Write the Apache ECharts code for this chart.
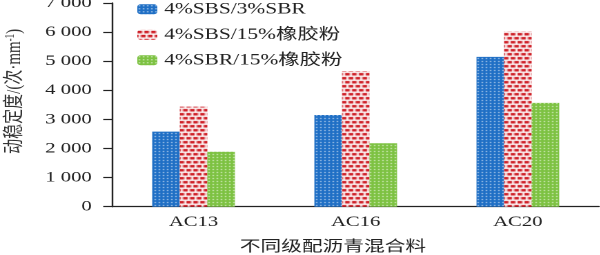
<!DOCTYPE html>
<html>
<head>
<meta charset="utf-8">
<script src="https://cdn.jsdelivr.net/npm/echarts@6/dist/echarts.min.js"></script>
<style>
html,body{margin:0;padding:0;background:#fff;overflow:hidden;width:600px;height:255px;}
#c{width:435px;height:255px;transform:scaleX(1.38);transform-origin:0 0;}
</style>
</head>
<body>
<div id="c"></div>
<script>
// ---- data ----
var categories = ['AC13', 'AC16', 'AC20'];
var seriesNames = ['4%SBS/3%SBR', '4%SBS/15%橡胶粉', '4%SBR/15%橡胶粉'];
var valsSBS_SBR = [2580, 3150, 5150];
var valsSBS_Rubber = [3440, 4660, 6020];
var valsSBR_Rubber = [1890, 2180, 3570];
var yMin = 0, yMax = 7000, yStep = 1000;
var xAxisName = '不同级配沥青混合料';

// ---- pattern tiles ----
function tile(w, h, bg, fg, rects) {
  var cv = document.createElement('canvas');
  cv.width = w; cv.height = h;
  var ctx = cv.getContext('2d');
  ctx.fillStyle = bg; ctx.fillRect(0, 0, w, h);
  ctx.fillStyle = fg;
  rects.forEach(function (r) { ctx.fillRect(r[0], r[1], r[2], r[3]); });
  return { image: cv, repeat: 'repeat' };
}
var blueFill = tile(3, 3, '#1f6fc5', '#d3e4f6', [[1, 1, 1, 1]]);
var redFill = tile(5, 8, '#ffffff', '#cc141c', [[0, 1, 3.5, 2.5], [2.5, 5, 2.5, 2.5], [0, 5, 1, 2.5]]);
var greenFill = tile(3, 3, '#7dc242', '#eaf6e0', [[1, 1, 1, 1]]);

var serif = '"Liberation Serif", "Times New Roman", "Noto Sans CJK SC", serif';
var chart = echarts.init(document.getElementById('c'), null, { devicePixelRatio: 2 });
function fmt(v) { return String(v).replace(/\B(?=(\d{3})+(?!\d))/g, ' '); }

chart.setOption({
  animation: false,
  backgroundColor: '#fff',
  grid: { left: 81.5, right: 1, top: 3, bottom: 48.3, containLabel: false, outerBoundsMode: 'none' },
  legend: {
    orient: 'vertical', left: 99.5, top: 1.5, padding: 0,
    itemWidth: 14.5, itemHeight: 10, itemGap: 10,
    textStyle: { fontFamily: serif, fontSize: 15.5, color: '#222' },
    data: seriesNames
  },
  xAxis: {
    type: 'category', data: categories,
    axisLine: { lineStyle: { color: '#222', width: 1.3 } },
    axisTick: { show: false },
    axisLabel: { fontFamily: serif, fontSize: 15, color: '#222', margin: 8 },
    name: xAxisName, nameLocation: 'middle', nameGap: 33,
    nameTextStyle: { fontFamily: serif, fontSize: 15, color: '#222', padding: [0, 33, 0, 0] }
  },
  yAxis: {
    type: 'value', min: yMin, max: yMax, interval: yStep,
    axisLine: { show: true, lineStyle: { color: '#222', width: 1.2 } },
    axisTick: { show: true, inside: false, length: 6.7, lineStyle: { color: '#222', width: 1.2 } },
    splitLine: { show: false },
    axisLabel: { fontFamily: serif, fontSize: 15, color: '#222', margin: 15, formatter: fmt },
    name: '动稳定度/(次·mm{sup|-1})', nameLocation: 'middle', nameGap: 63.5, nameRotate: 90,
    nameTextStyle: {
      fontFamily: serif, fontSize: 15, color: '#333', padding: [0, 0, 0, 27],
      rich: { sup: { fontFamily: serif, fontSize: 9, color: '#333', verticalAlign: 'top', padding: [0, 0, 6, 0] } }
    }
  },
  series: [
    { name: seriesNames[0], type: 'bar', data: valsSBS_SBR, barWidth: '17%', barGap: '0%', itemStyle: { color: blueFill } },
    { name: seriesNames[1], type: 'bar', data: valsSBS_Rubber, barWidth: '17%', barGap: '0%', itemStyle: { color: redFill } },
    { name: seriesNames[2], type: 'bar', data: valsSBR_Rubber, barWidth: '17%', barGap: '0%', itemStyle: { color: greenFill } }
  ]
});
</script>
</body>
</html>
